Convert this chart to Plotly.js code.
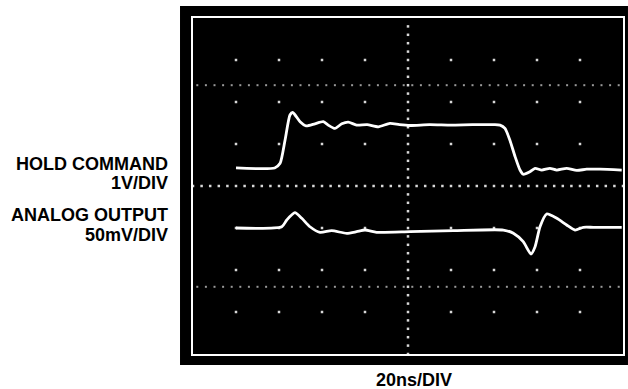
<!DOCTYPE html>
<html>
<head>
<meta charset="utf-8">
<script src="https://cdn.plot.ly/plotly-3.0.1.min.js"></script>
<style>html,body{margin:0;padding:0;background:#fff}#chart{width:628px;height:389px}</style>
</head>
<body>
<div id="chart"></div>
<script>
// Time base: 20 ns/div, 10 divisions
const holdTime = [20, 38, 40.5, 42.8, 45.1, 46.4, 49.8, 52.6, 56.7, 60.6, 62.9, 66.0, 69.2, 72.2, 76.1, 81, 86.2, 91.6, 96, 100.9, 110, 120, 130, 140, 142.8, 145.1, 147.4, 149.8, 152.1, 153.6, 156.7, 159.1, 162.2, 166.0, 169.2, 173.8, 178.5, 183.1, 189.3, 199.4];
// HOLD COMMAND, volts (1 V/div)
const holdVolts = [0, 0, 0.11, 0.66, 1.26, 1.32, 1.10, 1.00, 1.05, 1.10, 1.02, 0.94, 1.05, 1.09, 1.02, 1.03, 0.98, 1.06, 1.03, 1.01, 1.03, 1.02, 1.03, 1.03, 1.02, 0.94, 0.66, 0.27, -0.05, -0.15, -0.09, -0.01, -0.05, -0.01, -0.05, -0.01, -0.06, -0.03, -0.03, -0.05];

const outTime = [20, 41.3, 43.6, 47.4, 50.6, 54.4, 59.1, 64.5, 71.5, 76.1, 80.0, 85.4, 100.9, 121.1, 144.3, 149.0, 153.6, 157.2, 159.1, 161.4, 164.5, 169.2, 173.8, 177.7, 181.5, 186.2, 199.4];
// ANALOG OUTPUT, millivolts (50 mV/div)
const outMillivolts = [0, 1.5, 9.5, 18.2, 11.5, 1.5, -5.1, -3.2, -6.3, -4.4, -2.4, -5.1, -4.4, -3.2, -2.4, -6.3, -16.3, -31, -22.3, 1.5, 16.7, 11.5, 3.6, -2.4, 0.8, 0.8, 0.8];

const labels = ["HOLD COMMAND", "1V/DIV", "ANALOG OUTPUT", "50mV/DIV", "20ns/DIV"];

// graticule dots (decoration)
const gx = [], gy = [];
for (let i = 1; i < 10; i++) for (let j = -3; j <= 3; j++) { if (i !== 5 && j !== 0) { gx.push(i * 20); gy.push(j); } }
for (let t = 0; t <= 200; t += 4) { gx.push(t); gy.push(0); }
for (let v = -4; v <= 4; v += 0.2) { gx.push(100); gy.push(v); }
const dx = [], dy = [];
for (let t = 2; t <= 200; t += 4) { dx.push(t, t); dy.push(2.4, -2.4); }

const traces = [
  {x: dx, y: dy, type: 'scatter', mode: 'markers', marker: {color: '#9a9a9a', size: 2, symbol: 'square'}, hoverinfo: 'skip', yaxis: 'y'},
  {x: gx, y: gy, type: 'scatter', mode: 'markers', marker: {color: '#d8d8d8', size: 2.5, symbol: 'square'}, hoverinfo: 'skip', yaxis: 'y'},
  {x: holdTime, y: holdVolts, type: 'scatter', mode: 'lines', line: {color: '#ffffff', width: 2.8, shape: 'spline', smoothing: 0.6}, yaxis: 'y2'},
  {x: outTime, y: outMillivolts, type: 'scatter', mode: 'lines', line: {color: '#ffffff', width: 2.8, shape: 'spline', smoothing: 0.6}, yaxis: 'y3'}
];

const font = {family: 'Liberation Sans, Arial, sans-serif', size: 18, color: '#000'};
const layout = {
  width: 628, height: 389,
  margin: {l: 193, r: 5, t: 18, b: 35},
  paper_bgcolor: '#ffffff', plot_bgcolor: '#000000',
  showlegend: false,
  xaxis: {range: [0, 200], showgrid: false, zeroline: false, showticklabels: false, ticks: '', showline: true, mirror: true, linecolor: '#ffffff', linewidth: 2},
  yaxis: {range: [-4, 4], showgrid: false, zeroline: false, showticklabels: false, ticks: '', showline: true, mirror: true, linecolor: '#ffffff', linewidth: 2},
  yaxis2: {range: [-4.43, 3.57], overlaying: 'y', showgrid: false, zeroline: false, showticklabels: false, ticks: '', visible: false},
  yaxis3: {range: [-200, 200].map(v => v - 50).map((v, k) => k === 0 ? -150 : 250), overlaying: 'y', showgrid: false, zeroline: false, showticklabels: false, ticks: '', visible: false},
  shapes: [
    {type: 'rect', xref: 'paper', yref: 'paper', x0: -0.0302, x1: 1.0116, y0: -0.0327, y1: 1.0357, fillcolor: '#000000', line: {width: 0}, layer: 'below'}
  ],
  annotations: [
    {text: '<b>' + labels[0] + '</b>', xref: 'paper', yref: 'paper', x: -0.0535, y: 0.5655, xanchor: 'right', yanchor: 'middle', showarrow: false, font: font},
    {text: '<b>' + labels[1] + '</b>', xref: 'paper', yref: 'paper', x: -0.0535, y: 0.5104, xanchor: 'right', yanchor: 'middle', showarrow: false, font: font},
    {text: '<b>' + labels[2] + '</b>', xref: 'paper', yref: 'paper', x: -0.0535, y: 0.4137, xanchor: 'right', yanchor: 'middle', showarrow: false, font: font},
    {text: '<b>' + labels[3] + '</b>', xref: 'paper', yref: 'paper', x: -0.0535, y: 0.3542, xanchor: 'right', yanchor: 'middle', showarrow: false, font: font},
    {text: '<b>' + labels[4] + '</b>', xref: 'paper', yref: 'paper', x: 0.515, y: -0.0759, xanchor: 'center', yanchor: 'middle', showarrow: false, font: font}
  ]
};
Plotly.newPlot('chart', traces, layout, {displayModeBar: false, staticPlot: true});
</script>
</body>
</html>
